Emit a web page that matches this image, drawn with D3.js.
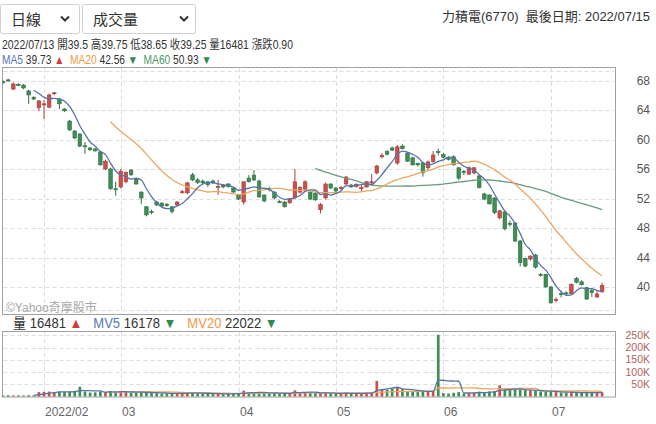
<!DOCTYPE html>
<html><head><meta charset="utf-8">
<script src="https://cdn.jsdelivr.net/npm/d3@7"></script>
<style>
body{margin:0;background:#fff}
svg{display:block}
text{font-family:"Liberation Sans","Noto Sans CJK TC",Arial,sans-serif;white-space:pre}
</style>
</head><body><svg id="c" width="656" height="424"></svg>
<script>
const dates = [
"2022-01-17","2022-01-18","2022-01-19","2022-01-20","2022-01-21","2022-01-24","2022-01-25","2022-01-26",
"2022-02-07","2022-02-08","2022-02-09","2022-02-10","2022-02-11","2022-02-14","2022-02-15","2022-02-16","2022-02-17","2022-02-18","2022-02-21","2022-02-22","2022-02-23","2022-02-24","2022-02-25",
"2022-03-01","2022-03-02","2022-03-03","2022-03-04","2022-03-07","2022-03-08","2022-03-09","2022-03-10","2022-03-11","2022-03-14","2022-03-15","2022-03-16","2022-03-17","2022-03-18","2022-03-21","2022-03-22","2022-03-23","2022-03-24","2022-03-25","2022-03-28","2022-03-29","2022-03-30","2022-03-31",
"2022-04-01","2022-04-06","2022-04-07","2022-04-08","2022-04-11","2022-04-12","2022-04-13","2022-04-14","2022-04-15","2022-04-18","2022-04-19","2022-04-20","2022-04-21","2022-04-22","2022-04-25","2022-04-26","2022-04-27","2022-04-28","2022-04-29",
"2022-05-03","2022-05-04","2022-05-05","2022-05-06","2022-05-09","2022-05-10","2022-05-11","2022-05-12","2022-05-13","2022-05-16","2022-05-17","2022-05-18","2022-05-19","2022-05-20","2022-05-23","2022-05-24","2022-05-25","2022-05-26","2022-05-27","2022-05-30","2022-05-31",
"2022-06-01","2022-06-02","2022-06-06","2022-06-07","2022-06-08","2022-06-09","2022-06-10","2022-06-13","2022-06-14","2022-06-15","2022-06-16","2022-06-17","2022-06-20","2022-06-21","2022-06-22","2022-06-23","2022-06-24","2022-06-27","2022-06-28","2022-06-29","2022-06-30",
"2022-07-01","2022-07-04","2022-07-05","2022-07-06","2022-07-07","2022-07-08","2022-07-11","2022-07-12","2022-07-13","2022-07-14","2022-07-15"];

const open = [67.9,68.15,66.9,67.5,67.45,66.65,65.8,64.35,
64.75,64.45,66.3,65.55,64.2,62.55,61.2,60.8,59.2,58.9,58.75,58.35,56.05,56.05,53.35,
53.6,54.3,55.9,54.7,52.9,50.9,50.25,51.55,51.4,51.25,50.9,51.15,52.9,52.8,55.25,54.55,54.4,54.3,54.4,53.6,53.85,54.0,53.45,
52.5,51.55,54.8,55.2,54.4,52.5,53.4,52.9,51.6,51.55,51.45,52.1,52.9,53.3,52.9,52.75,50.5,52.1,54.0,
53.45,53.45,54.0,53.85,53.65,53.45,53.6,54.25,55.5,57.7,58.4,58.9,56.85,59.15,58.2,57.55,56.8,56.85,56.2,57.05,58.4,
58.0,57.6,57.7,56.2,55.7,55.35,55.5,55.1,52.65,52.5,52.1,49.4,50.2,48.65,48.7,46.25,43.9,43.8,44.35,41.7,41.7,
40.0,38.2,39.1,39.2,39.1,41.15,40.7,39.9,39.5,38.65,39.35];
const high = [68.1,68.3,67.8,67.7,67.6,66.8,65.9,65.4,
65.4,66.3,66.5,65.7,64.3,62.7,61.3,60.9,59.7,59.0,58.9,58.5,57.3,56.2,54.3,
56.05,55.7,56.0,54.8,53.0,51.0,50.5,51.7,51.5,51.4,51.0,51.7,53.2,54.3,55.5,54.8,54.6,54.4,54.6,54.55,54.0,54.1,53.6,
52.6,54.4,55.2,55.9,54.6,52.6,53.6,53.0,51.8,51.7,52.1,56.05,53.7,54.5,53.0,52.9,51.4,54.2,54.1,
53.6,53.7,55.1,54.0,54.1,53.8,54.4,55.35,56.6,58.2,58.6,59.1,59.3,59.4,58.3,57.7,56.9,57.0,57.2,58.5,58.8,
58.2,57.8,57.9,56.3,55.9,56.4,56.3,55.3,52.8,52.6,52.2,50.5,50.4,49.0,48.8,46.4,44.0,44.3,44.5,41.9,41.8,
40.1,38.6,39.5,39.4,40.5,41.35,40.9,40.0,39.75,39.4,40.6];
const low = [67.6,67.9,66.8,67.3,66.9,64.9,65.4,63.9,
62.85,64.3,66.1,64.2,63.8,61.2,60.1,59.0,58.1,58.5,58.4,56.5,55.9,53.2,52.4,
53.4,54.1,55.1,53.9,51.3,49.6,49.9,51.0,50.9,50.9,50.0,51.0,52.7,52.6,54.4,54.0,53.9,53.6,54.0,52.5,53.4,53.5,52.8,
51.8,51.2,54.2,54.4,52.1,51.5,53.0,51.9,51.4,50.8,51.3,51.9,52.7,53.1,51.8,51.7,50.0,51.9,53.3,
52.9,53.2,53.9,53.5,53.5,53.0,53.5,53.9,55.3,57.5,57.9,58.5,56.6,58.7,57.0,56.5,56.4,55.0,55.9,56.9,57.9,
57.5,57.2,56.5,54.5,55.2,55.2,55.3,53.4,51.8,51.2,49.9,49.2,47.7,48.2,46.1,42.8,42.7,43.6,42.5,41.4,39.9,
37.7,37.9,38.6,38.9,39.0,40.5,40.2,38.3,38.65,38.5,39.2];
const close = [67.85,68.0,67.6,67.45,67.05,66.1,65.55,65.3,
64.9,66.1,66.4,64.9,63.95,61.35,60.25,59.15,59.15,58.65,58.5,56.6,57.1,53.35,53.3,
55.75,55.6,55.25,54.0,52.1,49.8,50.2,51.15,51.0,51.05,50.25,51.55,52.95,54.15,54.55,54.2,54.15,53.9,54.15,53.65,53.6,53.65,52.9,
51.95,54.3,54.3,54.55,52.25,51.7,53.35,52.1,51.55,50.9,51.95,54.3,53.5,54.3,51.95,51.85,51.2,54.0,53.45,
53.05,53.5,54.95,53.6,53.95,53.5,54.3,54.3,56.45,57.85,58.05,58.6,59.05,58.8,57.1,56.6,56.6,55.5,57.0,57.95,58.3,
57.65,57.35,56.6,54.8,55.65,56.2,56.2,53.5,51.95,51.3,50.1,50.35,47.9,48.55,46.25,43.3,42.85,44.2,42.7,41.65,40.0,
37.85,38.3,39.0,39.1,40.35,40.65,40.3,38.35,39.25,39.05,40.2];
const volume = [4000,5000,4200,4800,4100,5200,4300,18000,
19000,20000,18000,19000,18000,20000,22000,40000,20000,16000,17000,20000,18000,22000,17000,
22000,18000,16000,15000,17000,18000,14000,13000,12000,12000,14000,12000,13000,16000,15000,12000,11000,12000,10000,12000,10000,11000,12000,
12000,24000,16000,14000,17000,15000,12000,14000,12000,13000,14000,25000,16000,18000,15000,14000,13000,16000,12000,
12000,11000,16000,12000,13000,12000,14000,18000,64000,30000,28000,32000,35000,30000,22000,20000,18000,24000,20000,22000,252000,
14000,12000,15000,18000,12000,14000,15000,20000,18000,20000,22000,46000,28000,26000,28000,29000,26000,24000,24000,20000,20000,
22000,18000,16000,15000,18000,17000,15000,14000,16481,15000,17000];

// values shown in the legends (for 2022/07/13)
const infoDate = "2022/07/13";
const infoFields = ["開39.5", "高39.75", "低38.65", "收39.25", "量16481", "漲跌0.90"];
const maNames = ["MA5", "MA20", "MA60"];
const maLegendValues = ["39.73", "42.56", "50.93"];
const maLegendUp = [true, false, false];
const volLegendNames = ["量", "MV5", "MV20"];
const volLegendValues = ["16481", "16178", "22022"];
const volLegendUp = [true, false, false];

const priceTicks = [40,44,48,52,56,60,64,68];
const volTicks = [50000,100000,150000,200000,250000];
const volTickLabels = ["50K","100K","150K","200K","250K"];
const monthStarts = ["2022-02-07","2022-03-01","2022-04-01","2022-05-03","2022-06-01","2022-07-01"];
const monthLabels = ["2022/02","03","04","05","06","07"];

const RED = "#c9504b", RED_D = "#a83d39", GREEN = "#3e8e55", GREEN_D = "#2e7042";
const C_MA5 = "#5673a8", C_MA20 = "#eea661", C_MA60 = "#6b9a7c";
const T_MA5 = "#5a78b8", T_MA20 = "#ef9a4c", T_MA60 = "#4c9a68";
const UPC = "#d23a3a", DNC = "#2e8a4e";

const svg = d3.select("#c");
const x = d3.scaleBand().domain(dates).range([0.5, 604.66]).paddingInner(0.3).paddingOuter(0.15);
const cx = d => x(d) + x.bandwidth()/2;
const y = d3.scaleLinear().domain([36.87, 69.36]).range([310, 71]);
const yv = d3.scaleLinear().domain([0, 270000]).range([396.5, 330.4]);

const L = 2.5, R = 615.5;

// fit a text element horizontally to a target width using a transform
function fitText(t, x0, y0, width){
  const w = t.node().getComputedTextLength();
  const s = Math.min(1, width / w);
  t.attr("x", 0).attr("y", 0).attr("transform", `translate(${x0},${y0}) scale(${s},1)`);
}

// ---- header
function dropdown(x0, w, label, chevX){
  svg.append("rect").attr("x", x0+0.5).attr("y", 4.5).attr("width", w).attr("height", 29)
    .attr("rx", 2).attr("fill", "#fff").attr("stroke", "#cfcfcf");
  svg.append("text").attr("x", x0+11).attr("y", 25).attr("font-size", 15).attr("fill", "#333").text(label);
  svg.append("path").attr("d", `M${chevX},16.5 l4,4 l4,-4`).attr("fill", "none")
    .attr("stroke", "#333").attr("stroke-width", 2);
}
dropdown(0, 79, "日線", 61);
dropdown(82, 113, "成交量", 180);
svg.append("text").attr("x", 650).attr("y", 21).attr("text-anchor", "end").attr("font-size", 13)
  .attr("fill", "#333").text("力積電(6770)  最後日期: 2022/07/15");

const info = svg.append("text").attr("font-size", 12).attr("fill", "#333")
  .text(infoDate + " " + infoFields.join(" "));
fitText(info, 2, 49, 291);

function seg(t, txt, col){ t.append("tspan").attr("fill", col).text(txt); }

const leg = svg.append("text").attr("font-size", 12);
[T_MA5, T_MA20, T_MA60].forEach((col, k) => {
  seg(leg, (k ? "  " : "") + maNames[k], col);
  seg(leg, " " + maLegendValues[k] + " ", "#333");
  seg(leg, maLegendUp[k] ? "▲" : "▼", maLegendUp[k] ? UPC : DNC);
});
fitText(leg, 2, 64, 210);

// ---- moving averages (from the closes / volumes)
function ma(arr, n){
  return arr.map((v,i) => {
    if (i < n+1) return null;
    let s = 0; for (let k=i-n+1;k<=i;k++) s += arr[k];
    return s/n;
  });
}
const ma5 = ma(close,5), ma20 = ma(close,20), ma60 = ma(close,60);
const mv5 = ma(volume,5), mv20 = ma(volume,20);

// ---- main chart box & grid
const main = svg.append("g");
main.append("rect").attr("x", L).attr("y", 67.5).attr("width", R-L).attr("height", 247)
  .attr("fill", "#fff").attr("stroke", "#a0a0a0");
const hLines = priceTicks.concat([y.domain()[0], y.domain()[1]]);
main.selectAll(".hg").data(hLines).join("line")
  .attr("x1", L+1).attr("x2", R-1).attr("y1", d => Math.round(y(d))+0.5).attr("y2", d => Math.round(y(d))+0.5)
  .attr("stroke", "#dcdcdc").attr("stroke-dasharray", "4,3");
main.selectAll(".vg").data(monthStarts).join("line")
  .attr("x1", d => Math.round(cx(d))+0.5).attr("x2", d => Math.round(cx(d))+0.5)
  .attr("y1", 68).attr("y2", 314).attr("stroke", "#dcdcdc").attr("stroke-dasharray", "4,3");
svg.selectAll(".yl").data(priceTicks).join("text")
  .attr("x", 650).attr("y", d => y(d)+4).attr("text-anchor", "end").attr("font-size", 12)
  .attr("fill", "#555").text(d => d);

svg.append("text").attr("x", 6).attr("y", 312).attr("font-size", 12).attr("fill", "#a8a8a8").text("©Yahoo奇摩股市");

svg.append("clipPath").attr("id", "mclip").append("rect").attr("x", L).attr("y", 68).attr("width", R-L).attr("height", 246);
const cg = main.append("g").attr("clip-path", "url(#mclip)");

const idx = d3.range(dates.length);
const up = i => close[i] >= open[i];
cg.selectAll(".wick").data(idx).join("line")
  .attr("x1", i => cx(dates[i])).attr("x2", i => cx(dates[i]))
  .attr("y1", i => y(high[i])).attr("y2", i => y(low[i]))
  .attr("stroke", i => up(i) ? RED_D : GREEN_D).attr("stroke-width", 1);
cg.selectAll(".body").data(idx).join("rect")
  .attr("x", i => x(dates[i])).attr("width", x.bandwidth())
  .attr("y", i => y(Math.max(open[i], close[i])))
  .attr("height", i => Math.max(1, Math.abs(y(open[i]) - y(close[i]))))
  .attr("fill", i => up(i) ? RED : GREEN).attr("stroke", i => up(i) ? RED_D : GREEN_D).attr("stroke-width", 0.6);

function drawLine(g, arr, sc, col){
  const ln = d3.line().defined(i => arr[i] != null).x(i => cx(dates[i])).y(i => sc(arr[i])).curve(d3.curveMonotoneX);
  g.append("path").datum(idx).attr("d", ln).attr("fill", "none").attr("stroke", col).attr("stroke-width", 1.3);
}
drawLine(cg, ma60, y, C_MA60);
drawLine(cg, ma20, y, C_MA20);
drawLine(cg, ma5, y, C_MA5);

// ---- volume legend
const vleg = svg.append("text").attr("font-size", 14);
[ "#333", T_MA5, T_MA20 ].forEach((col, k) => {
  seg(vleg, (k ? "   " : "") + volLegendNames[k], col);
  seg(vleg, " " + volLegendValues[k] + " ", "#333");
  seg(vleg, volLegendUp[k] ? "▲" : "▼", volLegendUp[k] ? UPC : DNC);
});
fitText(vleg, 13, 328, 265);

// ---- volume panel
const vg = svg.append("g");
vg.append("rect").attr("x", L).attr("y", 331.5).attr("width", R-L).attr("height", 65.5)
  .attr("fill", "#fff").attr("stroke", "#a0a0a0");
vg.selectAll(".vh").data(volTicks).join("line")
  .attr("x1", L+1).attr("x2", R-1).attr("y1", d => Math.round(yv(d))+0.5).attr("y2", d => Math.round(yv(d))+0.5)
  .attr("stroke", "#dcdcdc").attr("stroke-dasharray", "4,3");
vg.selectAll(".vv").data(monthStarts).join("line")
  .attr("x1", d => Math.round(cx(d))+0.5).attr("x2", d => Math.round(cx(d))+0.5)
  .attr("y1", 332).attr("y2", 396.5).attr("stroke", "#dcdcdc").attr("stroke-dasharray", "4,3");
svg.selectAll(".vl").data(volTicks).join("text")
  .attr("x", 650).attr("y", d => yv(d)+3.5).attr("text-anchor", "end").attr("font-size", 10.5)
  .attr("fill", "#b0625f").text((d,i) => volTickLabels[i]);
const bw = x.bandwidth()*0.75;
vg.selectAll(".vb").data(idx).join("rect")
  .attr("x", i => cx(dates[i]) - bw/2).attr("width", bw)
  .attr("y", i => yv(volume[i])).attr("height", i => yv(0) - yv(volume[i]))
  .attr("fill", i => up(i) ? RED : GREEN);
drawLine(vg, mv20, yv, C_MA20);
drawLine(vg, mv5, yv, C_MA5);

// ---- x axis labels
svg.selectAll(".xl").data(monthStarts).join("text")
  .attr("x", d => Math.round(cx(d)) + 1).attr("y", 416).attr("font-size", 12).attr("fill", "#666")
  .text((d,i) => monthLabels[i]);
</script>
</body></html>
